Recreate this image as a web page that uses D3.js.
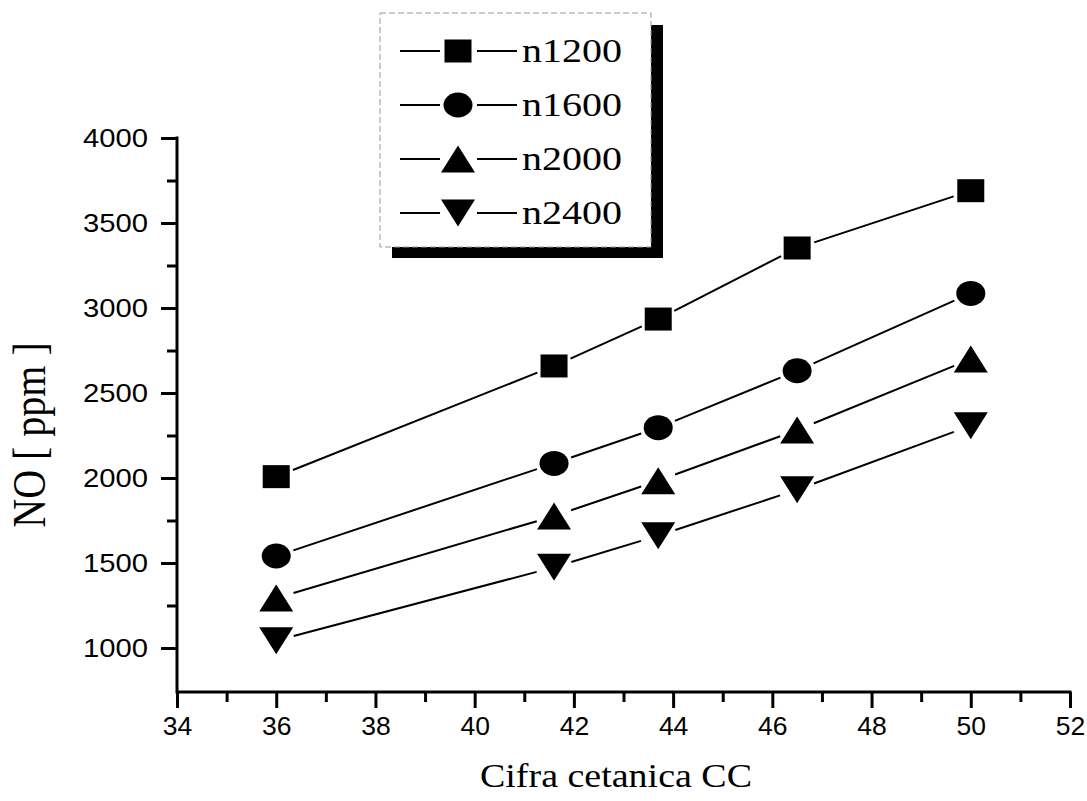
<!DOCTYPE html>
<html><head><meta charset="utf-8">
<script src="https://cdn.jsdelivr.net/npm/d3@7"></script>
<style>html,body{margin:0;padding:0;background:#fff;}</style>
</head><body>
<svg id="c" width="1087" height="801"></svg>
<script>
// ---- data ----
const cc = [36, 41.6, 43.7, 46.5, 50];
const n1200 = [2008, 2659, 2935, 3353, 3690];
const n1600 = [1541, 2086, 2296, 2631, 3086];
const n2000 = [1294, 1776, 1984, 2282, 2700];
const n2400 = [1043, 1475, 1661, 1931, 2308];
const seriesNames = ["n1200", "n1600", "n2000", "n2400"];
const seriesSymbols = ["square", "circle", "triangleUp", "triangleDown"];
const xTickValues = [34, 36, 38, 40, 42, 44, 46, 48, 50, 52];
const xMinorValues = [35, 37, 39, 41, 43, 45, 47, 49, 51];
const yTickValues = [1000, 1500, 2000, 2500, 3000, 3500, 4000];
const yMinorValues = [1250, 1750, 2250, 2750, 3250, 3750];
const xTitle = "Cifra cetanica CC";
const yTitle = "NO [ ppm ]";

const series = [n1200, n1600, n2000, n2400].map((v, i) => ({
  name: seriesNames[i], sym: seriesSymbols[i],
  pts: cc.map((x, j) => ({x, y: v[j]}))
}));

const svg = d3.select("#c");
const x = d3.scaleLinear().domain([34, 52]).range([177, 1070]);
const y = d3.scaleLinear().domain([740, 4000]).range([692.2, 138]);
const X0 = 177, Y0 = 692;

function symPath(t) {
  if (t === "square") return "M-13.5,-11.5H13.5V11.5H-13.5Z";
  if (t === "circle") return "M-14.5,0A14.5,12.5 0 1,0 14.5,0A14.5,12.5 0 1,0 -14.5,0Z";
  if (t === "triangleUp") return "M0,-13.5L17,13.5L-17,13.5Z";
  return "M0,13.5L17,-13.5L-17,-13.5Z";
}

// ---- series lines with gaps around symbols ----
const gap = 18;
series.forEach(s => {
  const g = svg.append("g");
  for (let i = 0; i < s.pts.length - 1; i++) {
    const x1 = x(s.pts[i].x), y1 = y(s.pts[i].y);
    const x2 = x(s.pts[i+1].x), y2 = y(s.pts[i+1].y);
    const L = Math.hypot(x2 - x1, y2 - y1);
    const ux = (x2 - x1) / L, uy = (y2 - y1) / L;
    g.append("line")
      .attr("x1", x1 + ux*gap).attr("y1", y1 + uy*gap)
      .attr("x2", x2 - ux*gap).attr("y2", y2 - uy*gap)
      .attr("stroke", "#000").attr("stroke-width", 2);
  }
  g.selectAll("path").data(s.pts).join("path")
    .attr("d", symPath(s.sym))
    .attr("transform", d => `translate(${x(d.x)},${y(d.y)})`)
    .attr("fill", "#000");
});

// ---- axes ----
const font = "'Liberation Sans', Arial, sans-serif";
const xAxis = svg.append("g").attr("transform", `translate(0,${Y0})`)
  .call(d3.axisBottom(x).tickValues(xTickValues).tickFormat(d3.format("d")).tickSize(16).tickSizeOuter(0).tickPadding(8));
const xMinor = svg.append("g").attr("transform", `translate(0,${Y0})`)
  .call(d3.axisBottom(x).tickValues(xMinorValues).tickFormat("").tickSize(10).tickSizeOuter(0));
const yAxis = svg.append("g").attr("transform", `translate(${X0},0)`)
  .call(d3.axisLeft(y).tickValues(yTickValues).tickFormat(d3.format("d")).tickSize(16).tickSizeOuter(0).tickPadding(13));
const yMinor = svg.append("g").attr("transform", `translate(${X0},0)`)
  .call(d3.axisLeft(y).tickValues(yMinorValues).tickFormat("").tickSize(10).tickSizeOuter(0));

[xAxis, xMinor, yAxis, yMinor].forEach(a => {
  a.selectAll("line").attr("stroke", "#000").attr("stroke-width", 3);
  a.selectAll("path.domain").attr("stroke", "none");
});
// axis lines
svg.append("line").attr("x1", X0).attr("x2", x(52) + 1.5).attr("y1", Y0).attr("y2", Y0)
  .attr("stroke", "#000").attr("stroke-width", 3);
svg.append("line").attr("x1", X0).attr("x2", X0).attr("y1", y(4000) - 1.5).attr("y2", Y0 + 1.5)
  .attr("stroke", "#000").attr("stroke-width", 3);

xAxis.selectAll("text").attr("font-family", font).attr("font-size", 26.5).attr("fill", "#000")
  .attr("dy", "0.71em");
yAxis.selectAll("text").attr("font-family", font).attr("font-size", 25.5).attr("fill", "#000")
  .attr("textLength", 65).attr("lengthAdjust", "spacingAndGlyphs");

// ---- titles ----
const serif = "'Liberation Serif', 'Times New Roman', serif";
svg.append("text").attr("x", 616).attr("y", 787).attr("text-anchor", "middle")
  .attr("font-family", serif).attr("font-size", 33)
  .attr("textLength", 272).attr("lengthAdjust", "spacingAndGlyphs").text(xTitle);
svg.append("text").attr("transform", "translate(45,435) rotate(-90) scale(1,1.17)").attr("text-anchor", "middle")
  .attr("font-family", serif).attr("font-size", 40).text(yTitle);

// ---- legend ----
const lg = svg.append("g");
lg.append("rect").attr("x", 392).attr("y", 25).attr("width", 271).attr("height", 233).attr("fill", "#000");
lg.append("rect").attr("x", 380).attr("y", 13).attr("width", 271).attr("height", 234)
  .attr("fill", "#fff").attr("stroke", "#999").attr("stroke-width", 1).attr("stroke-dasharray", "6,3");
series.forEach((s, i) => {
  const cy = 51 + i * 54;
  lg.append("line").attr("x1", 400).attr("x2", 440).attr("y1", cy).attr("y2", cy).attr("stroke", "#000").attr("stroke-width", 2);
  lg.append("line").attr("x1", 477).attr("x2", 517).attr("y1", cy).attr("y2", cy).attr("stroke", "#000").attr("stroke-width", 2);
  lg.append("path").attr("d", symPath(s.sym)).attr("transform", `translate(458,${cy})`).attr("fill", "#000");
  lg.append("text").attr("x", 522).attr("y", cy + 11).attr("font-family", serif).attr("font-size", 33)
    .attr("textLength", 100).attr("lengthAdjust", "spacingAndGlyphs").text(s.name);
});
</script>
</body></html>
